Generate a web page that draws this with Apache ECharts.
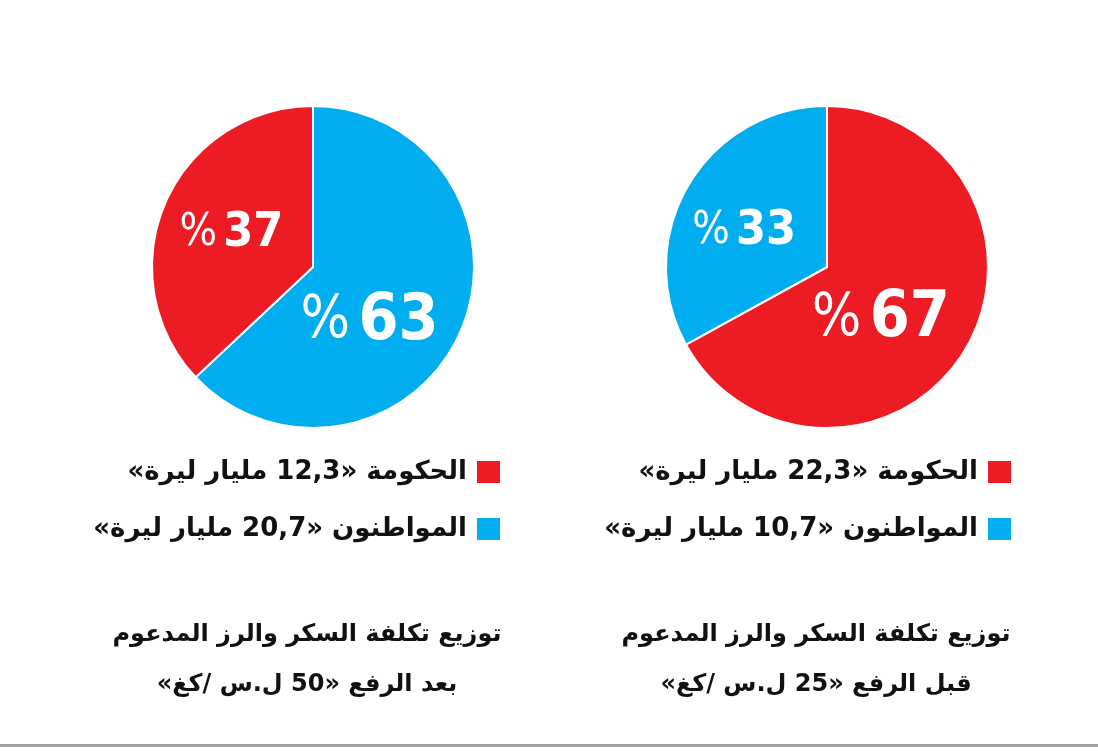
<!DOCTYPE html>
<html>
<head>
<meta charset="utf-8">
<script src="https://cdn.jsdelivr.net/npm/echarts@6/dist/echarts.min.js"></script>
<style>
  html, body { margin: 0; padding: 0; background: #fff; }
  #chart { width: 1098px; height: 752px; }
</style>
</head>
<body>
<div id="chart"></div>
<script>
// الفئات
var categories = ['الحكومة', 'المواطنون']
// قبل الرفع (25 ل.س/كغ)
var beforePct = [67, 33]
var beforeBillions = ['22,3', '10,7']
// بعد الرفع (50 ل.س/كغ)
var afterPct = [37, 63]
var afterBillions = ['12,3', '20,7']
var afterOrder = [1, 0] // الأزرق أولاً في الدائرة اليسرى

var titleBefore = ['توزيع تكلفة السكر والرز المدعوم', 'قبل الرفع «25 ل.س /كغ»']
var titleAfter = ['توزيع تكلفة السكر والرز المدعوم', 'بعد الرفع «50 ل.س /كغ»']

var RED = '#ED1C24'
var BLUE = '#00AEEF'
var colors = [RED, BLUE]
var RLM = '\u200F'
var arabicFont = '"DejaVu Sans", sans-serif'
var numFont = '"Liberation Sans Narrow", "DejaVu Sans Condensed", sans-serif'

function rtl(s) { return RLM + s + RLM }

function pieData(pcts, order) {
    return order.map(function (i) {
        var big = pcts[i] > 50
        return {
            name: categories[i],
            value: pcts[i],
            itemStyle: { color: colors[i] },
            label: {
                rich: {
                    p: { fontSize: big ? 58 : 44, fontWeight: 'normal', color: '#fff', fontFamily: numFont },
                    s: { fontSize: big ? 30 : 22 },
                    n: { fontSize: big ? 64 : 48, fontWeight: 'bold', color: '#fff', fontFamily: numFont }
                }
            }
        }
    })
}

// إزاحة التسميات داخل الدائرة
var shiftBefore = [[-18, 10], [-11, 7]]
var shiftAfter = [[-20, 22], [-5, 0]]

function pieSeries(cx, data, shifts) {
    return {
        type: 'pie',
        center: [cx, 267],
        radius: 161,
        startAngle: 90,
        clockwise: true,
        silent: true,
        animation: false,
        data: data,
        itemStyle: { borderColor: '#fff', borderWidth: 2 },
        label: {
            show: true,
            position: 'inside',
            formatter: function (p) { return '{p|%}{s| }{n|' + p.value + '}' }
        },
        labelLine: { show: false },
        labelLayout: function (params) {
            var s = shifts[params.dataIndex]
            return { dx: s[0], dy: s[1] }
        }
    }
}

function legendFor(rightPx, billions) {
    return {
        orient: 'vertical',
        align: 'right',
        right: rightPx,
        top: 459,
        padding: 0,
        itemWidth: 25,
        itemHeight: 24,
        itemGap: 31,
        icon: 'rect',
        selectedMode: false,
        data: categories,
        formatter: function (name) {
            var i = categories.indexOf(name)
            return rtl(name + ' «' + billions[i] + ' مليار ليرة»')
        },
        textStyle: { fontFamily: arabicFont, fontWeight: 'bold', fontSize: 26, color: '#111', padding: [0, 4, 0, 0] }
    }
}

function titleFor(cx, lines) {
    return {
        text: lines.map(rtl).join('\n'),
        left: cx,
        top: 610,
        padding: 0,
        textAlign: 'center',
        textStyle: { fontFamily: arabicFont, fontWeight: 'bold', fontSize: 24, lineHeight: 50, color: '#111' }
    }
}

var chart = echarts.init(document.getElementById('chart'), null, { renderer: 'canvas' })
chart.setOption({
    backgroundColor: '#fff',
    animation: false,
    color: colors,
    title: [titleFor(816, titleBefore), titleFor(307, titleAfter)],
    legend: [legendFor(85, beforeBillions), legendFor(596, afterBillions)],
    series: [
        pieSeries(827, pieData(beforePct, [0, 1]), shiftBefore),
        pieSeries(313, pieData(afterPct, afterOrder), shiftAfter)
    ],
    graphic: [{
        type: 'rect',
        shape: { x: 0, y: 744, width: 1098, height: 3 },
        style: { fill: '#a3a3a3' },
        silent: true
    }]
})
</script>
</body>
</html>
